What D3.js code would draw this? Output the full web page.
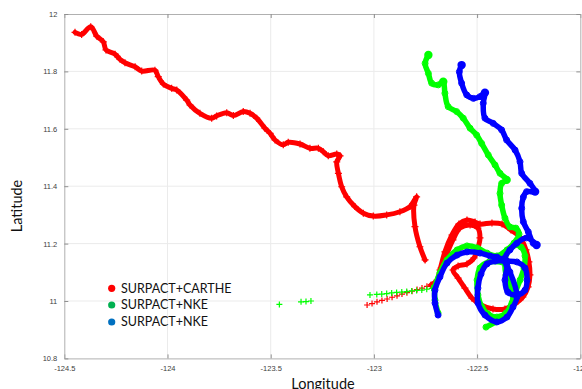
<!DOCTYPE html>
<html><head><meta charset="utf-8">
<script src="https://cdn.jsdelivr.net/npm/d3@7"></script>
<style>body{margin:0;background:#fff}svg{display:block}</style>
</head><body><svg id="c" width="582" height="389"></svg>
<script>
// ---- data (longitude, latitude) ----
const xTicks = [-124.5, -124, -123.5, -123, -122.5, -122];
const xTickLabels = ["-124.5", "-124", "-123.5", "-123", "-122.5", "-122"];
const yTicks = [10.8, 11, 11.2, 11.4, 11.6, 11.8, 12];
const yTickLabels = ["10.8", "11", "11.2", "11.4", "11.6", "11.8", "12"];
const legendLabels = ["SURPACT+CARTHE", "SURPACT+NKE", "SURPACT+NKE"];

const redTrack1 = [[-124.448,11.936],[-124.416,11.929],[-124.372,11.956],[-124.343,11.923],[-124.311,11.903],[-124.298,11.875],[-124.254,11.860],[-124.230,11.842],[-124.206,11.830],[-124.157,11.816],[-124.125,11.801],[-124.061,11.804],[-124.045,11.782],[-124.020,11.756],[-123.980,11.741],[-123.955,11.735],[-123.907,11.700],[-123.891,11.683],[-123.843,11.654],[-123.786,11.637],[-123.762,11.645],[-123.713,11.656],[-123.681,11.646],[-123.633,11.660],[-123.600,11.654],[-123.568,11.637],[-123.528,11.602],[-123.503,11.584],[-123.479,11.561],[-123.439,11.544],[-123.415,11.553],[-123.358,11.547],[-123.310,11.532],[-123.269,11.532],[-123.245,11.520],[-123.221,11.506],[-123.180,11.512],[-123.164,11.506],[-123.180,11.485],[-123.172,11.445],[-123.156,11.398],[-123.132,11.363],[-123.092,11.329],[-123.051,11.306],[-123.003,11.296],[-122.938,11.300],[-122.874,11.311],[-122.825,11.329],[-122.793,11.363],[-122.806,11.334],[-122.801,11.259],[-122.777,11.189],[-122.752,11.143]];
const redSparse = [[-123.033,10.986],[-123.009,10.991],[-122.985,10.997],[-122.961,11.002],[-122.936,11.007],[-122.912,11.013],[-122.888,11.018],[-122.864,11.024],[-122.840,11.029],[-122.815,11.034],[-122.791,11.040],[-122.767,11.045],[-122.743,11.051],[-122.723,11.056]];
const redTrack2 = [[-122.723,11.056],[-122.694,11.073],[-122.680,11.108],[-122.656,11.171],[-122.622,11.230],[-122.588,11.268],[-122.549,11.282],[-122.510,11.275],[-122.486,11.268],[-122.428,11.272],[-122.379,11.268],[-122.336,11.247],[-122.292,11.223],[-122.263,11.178],[-122.249,11.136],[-122.244,11.091],[-122.253,11.049],[-122.278,11.014],[-122.316,10.990],[-122.365,10.972],[-122.423,10.972],[-122.481,10.986],[-122.525,11.010],[-122.559,11.045],[-122.592,11.080],[-122.617,11.108],[-122.592,11.122],[-122.549,11.129],[-122.515,11.150],[-122.496,11.185],[-122.486,11.220],[-122.496,11.254],[-122.534,11.265],[-122.583,11.254],[-122.617,11.213],[-122.651,11.157],[-122.675,11.115]];

const greenTrack1 = [[-122.736,11.857],[-122.752,11.828],[-122.736,11.793],[-122.720,11.759],[-122.688,11.753],[-122.664,11.764],[-122.656,11.724],[-122.640,11.677],[-122.599,11.660],[-122.567,11.637],[-122.534,11.602],[-122.502,11.578],[-122.478,11.549],[-122.446,11.509],[-122.413,11.474],[-122.389,11.445],[-122.357,11.422],[-122.381,11.410],[-122.389,11.375],[-122.381,11.334],[-122.365,11.289],[-122.341,11.258],[-122.312,11.254],[-122.297,11.233],[-122.321,11.202],[-122.355,11.178],[-122.404,11.157],[-122.452,11.167],[-122.500,11.185],[-122.549,11.192],[-122.597,11.178],[-122.646,11.143],[-122.680,11.098],[-122.704,11.049],[-122.704,11.003],[-122.689,10.958]];
const greenTrack2 = [[-122.379,11.136],[-122.442,11.136],[-122.486,11.115],[-122.500,11.073],[-122.496,11.021],[-122.476,10.979],[-122.447,10.955],[-122.404,10.944],[-122.360,10.958],[-122.331,10.993],[-122.312,11.035],[-122.292,11.073],[-122.273,11.115],[-122.268,11.157],[-122.287,11.188],[-122.326,11.192],[-122.355,11.171],[-122.365,11.136],[-122.360,11.091],[-122.341,11.056],[-122.326,11.021],[-122.336,10.983],[-122.365,10.948],[-122.409,10.927],[-122.457,10.909]];
const greenSparse = [[-123.458,10.988],[-123.353,10.997],[-123.329,10.998],[-123.305,11.000],[-123.019,11.021],[-122.986,11.023],[-122.962,11.024],[-122.938,11.026],[-122.914,11.028],[-122.890,11.030],[-122.865,11.031],[-122.841,11.033],[-122.817,11.035],[-122.793,11.037],[-122.768,11.038],[-122.744,11.041],[-122.720,11.044]];

const blueTrack = [[-122.575,11.822],[-122.586,11.799],[-122.575,11.759],[-122.550,11.718],[-122.518,11.706],[-122.486,11.712],[-122.462,11.726],[-122.470,11.689],[-122.462,11.637],[-122.422,11.619],[-122.381,11.596],[-122.357,11.561],[-122.316,11.526],[-122.292,11.485],[-122.284,11.445],[-122.244,11.410],[-122.219,11.381],[-122.260,11.381],[-122.276,11.362],[-122.284,11.323],[-122.276,11.276],[-122.252,11.241],[-122.228,11.201],[-122.212,11.195],[-122.260,11.220],[-122.308,11.201],[-122.341,11.178],[-122.365,11.150],[-122.355,11.122],[-122.365,11.073],[-122.351,11.031],[-122.307,11.021],[-122.268,11.038],[-122.258,11.073],[-122.268,11.115],[-122.307,11.136],[-122.355,11.139],[-122.413,11.139],[-122.452,11.129],[-122.481,11.094],[-122.496,11.045],[-122.496,10.993],[-122.462,10.951],[-122.404,10.927],[-122.355,10.944],[-122.326,10.979],[-122.307,11.014],[-122.341,11.101],[-122.375,11.143],[-122.404,11.153],[-122.438,11.157],[-122.486,11.167],[-122.549,11.171],[-122.597,11.160],[-122.646,11.132],[-122.680,11.084],[-122.704,11.038],[-122.704,10.993],[-122.689,10.951]];

// dwell spots (drifters lingering: dense blobs)
const greenStops = [[-122.736,11.857],[-122.664,11.764],[-122.357,11.422]];
const blueStops = [[-122.575,11.822],[-122.462,11.726],[-122.219,11.381],[-122.212,11.195]];

// ---- drawing ----
const svg = d3.select("#c");
const L = 64.3, R = 580.3, T = 14, B = 358.4;
const x = d3.scaleLinear().domain([-124.5, -122]).range([L, R]);
const y = d3.scaleLinear().domain([10.8, 12]).range([B, T]);

const RED = "#ff0000", GREEN = "#00ff00", BLUE = "#0000ff";

// grid
const grid = svg.append("g");
grid.selectAll("line.gx").data(xTicks.slice(1, -1)).join("line")
  .attr("x1", d => x(d)).attr("x2", d => x(d)).attr("y1", T).attr("y2", B)
  .attr("stroke", "#ebebeb").attr("stroke-width", 1);
grid.selectAll("line.gy").data(yTicks.slice(1, -1)).join("line")
  .attr("x1", L).attr("x2", R).attr("y1", d => y(d)).attr("y2", d => y(d))
  .attr("stroke", "#ebebeb").attr("stroke-width", 1);

// axes (labels) via d3 axes
const fmtX = (d) => xTickLabels[xTicks.indexOf(d)];
const fmtY = (d) => yTickLabels[yTicks.indexOf(d)];
const axB = svg.append("g").attr("transform", `translate(0,${B})`)
  .call(d3.axisBottom(x).tickValues(xTicks).tickFormat(fmtX).tickSizeInner(-4).tickSizeOuter(0).tickPadding(7));
const axT = svg.append("g").attr("transform", `translate(0,${T})`)
  .call(d3.axisTop(x).tickValues(xTicks).tickFormat("").tickSizeInner(-4).tickSizeOuter(0));
const axL = svg.append("g").attr("transform", `translate(${L},0)`)
  .call(d3.axisLeft(y).tickValues(yTicks).tickFormat(fmtY).tickSizeInner(-4).tickSizeOuter(0).tickPadding(7));
const axR = svg.append("g").attr("transform", `translate(${R},0)`)
  .call(d3.axisRight(y).tickValues(yTicks).tickFormat("").tickSizeInner(-4).tickSizeOuter(0));
[axB, axT, axL, axR].forEach(g => {
  g.selectAll(".domain").attr("stroke", "#b0b0b0");
  g.selectAll(".tick line").attr("stroke", "#909090");
  g.selectAll("text").attr("fill", "#404040").style("font-family", "'Liberation Sans', Arial, sans-serif").style("font-size", "7.5px");
});

// tracks
const line = d3.line().x(d => x(d[0])).y(d => y(d[1])).curve(d3.curveCatmullRom.alpha(0.5));
const plot = svg.append("g");

function band(data, color, w) {
  plot.append("path").datum(data).attr("d", line).attr("fill", "none")
    .attr("stroke", color).attr("stroke-width", w)
    .attr("stroke-linejoin", "round").attr("stroke-linecap", "round");
}
function plus(data, color, s) {
  plot.append("g").selectAll("path").data(data).join("path")
    .attr("d", d => `M${x(d[0]) - s},${y(d[1])}H${x(d[0]) + s}M${x(d[0])},${y(d[1]) - s}V${y(d[1]) + s}`)
    .attr("stroke", color).attr("stroke-width", 1.2).attr("fill", "none");
}
function rings(data, color, r) {
  plot.append("g").selectAll("circle").data(data).join("circle")
    .attr("cx", d => x(d[0])).attr("cy", d => y(d[1])).attr("r", r)
    .attr("fill", "none").attr("stroke", color).attr("stroke-width", 1);
}
function blobs(data, color, r) {
  plot.append("g").selectAll("circle").data(data).join("circle")
    .attr("cx", d => x(d[0])).attr("cy", d => y(d[1])).attr("r", r).attr("fill", color);
}

// red (+ markers)
band(redTrack1, RED, 5);
band(redTrack2, RED, 5);
plus(redTrack1, RED, 3.5);
plus(redTrack2, RED, 3.5);
plus(redSparse, RED, 3);
// green (o markers)
band(greenTrack1, GREEN, 5.5);
band(greenTrack2, GREEN, 5.5);
rings(greenTrack1, GREEN, 3);
rings(greenTrack2, GREEN, 3);
blobs(greenStops, GREEN, 4.2);
plus(greenSparse, GREEN, 3);
// blue (o markers)
band(blueTrack, BLUE, 5.5);
rings(blueTrack, BLUE, 3);
blobs(blueStops, BLUE, 4.2);

// legend
const legendColors = ["#ff0000", "#00b050", "#0070c0"];
const lg = svg.append("g");
const legendY = [288.3, 305, 322];
legendLabels.forEach((t, i) => {
  lg.append("circle").attr("cx", 111.7).attr("cy", legendY[i]).attr("r", 3.6).attr("fill", legendColors[i]);
  lg.append("text").attr("x", 121).attr("y", legendY[i] + 4.4).text(t)
    .style("font-family", "Lato, 'Open Sans', sans-serif").style("font-size", "12.5px").attr("fill", "#111");
});

// axis titles
svg.append("text").attr("x", 323).attr("y", 389).attr("text-anchor", "middle").text("Longitude")
  .style("font-family", "Lato, 'Open Sans', sans-serif").style("font-size", "14.5px").attr("fill", "#111");
svg.append("text").attr("transform", "translate(22,206) rotate(-90)").attr("text-anchor", "middle").text("Latitude")
  .style("font-family", "Lato, 'Open Sans', sans-serif").style("font-size", "14.5px").attr("fill", "#111");
</script></body></html>
